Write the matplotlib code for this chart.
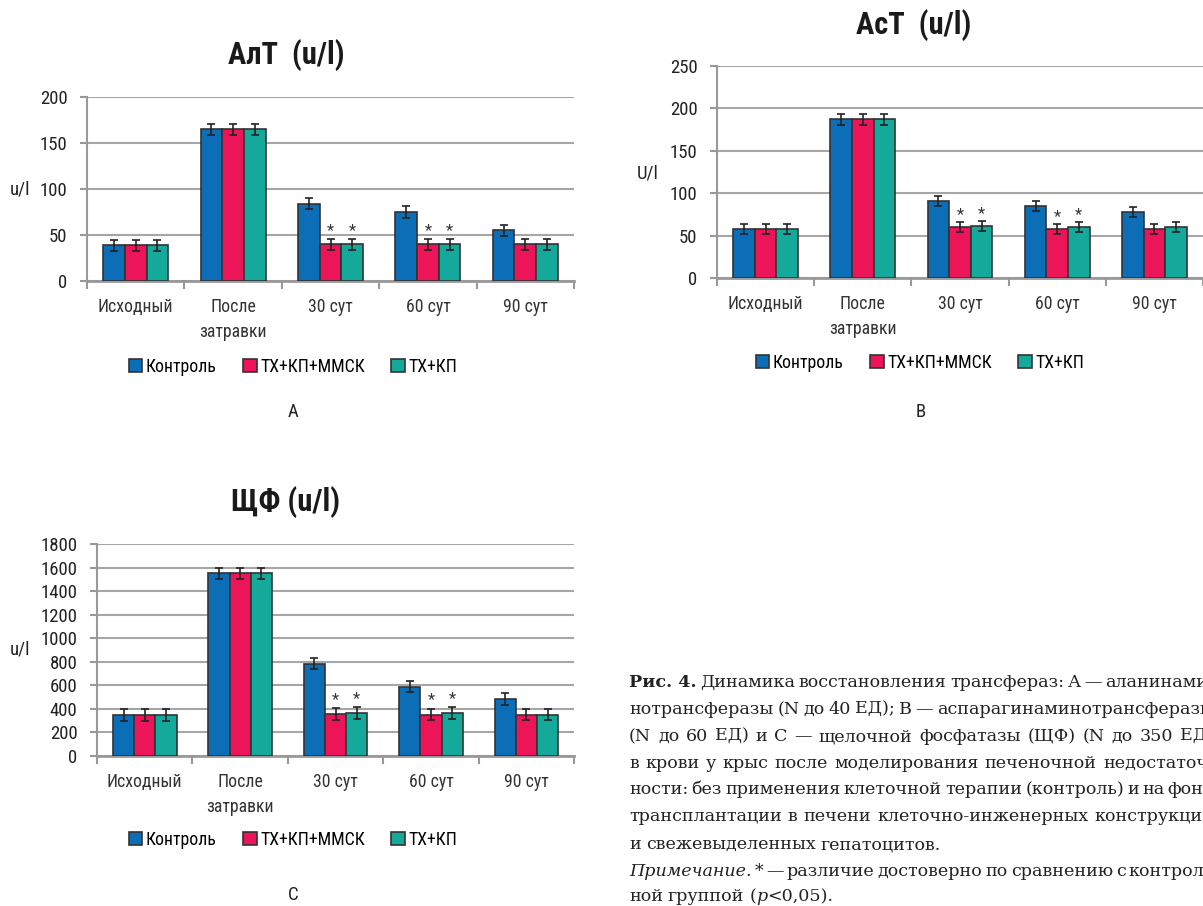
import matplotlib
matplotlib.use('Agg')
import matplotlib.pyplot as plt
import numpy as np

plt.rcParams['font.family'] = ['Roboto Condensed', 'Fira Sans Condensed', 'DejaVu Sans']

# Data
categories = ['Исходный', 'После\nзатравки', '30 сут', '60 сут', '90 сут']
groups = ['Контроль', 'ТХ+КП+ММСК', 'ТХ+КП']
colors = ['#0d6eb8', '#ec1559', '#14a99a']

alt_vals = [[39, 165, 84, 75, 55],
            [39, 165, 40, 40, 40],
            [39, 165, 40, 40, 40]]
alt_err = [6, 6, 6, 6, 6]

ast_vals = [[58, 187, 91, 85, 78],
            [58, 187, 60, 58, 58],
            [58, 187, 61, 60, 60]]
ast_err = [6, 6, 6, 6, 6]

alp_vals = [[350, 1550, 785, 590, 485],
            [350, 1550, 355, 352, 350],
            [350, 1550, 365, 365, 352]]
alp_err = [50, 50, 50, 48, 48]

# significance marks (group index, category index)
stars = [(1, 2), (2, 2), (1, 3), (2, 3)]

W, H = 1203, 906
fig = plt.figure(figsize=(W / 100, H / 100), dpi=100)


def px_axes(left, top, right, bottom):
    return fig.add_axes([left / W, 1 - bottom / H, (right - left) / W, (bottom - top) / H])


def panel(ax, vals, err, ymax, ystep, ylabel, ylab_xy, title, title_xy,
          leg_xy, letter, letter_xy, star_off):
    x = np.arange(len(categories))
    bw = 1 / 4.5
    for i, g in enumerate(groups):
        ax.bar(x + (i - 1) * bw, vals[i], bw, color=colors[i], edgecolor='#333333',
               linewidth=1.2, label=g, zorder=3,
               yerr=err, error_kw=dict(ecolor='#222222', elinewidth=1.2, capsize=3,
                                       capthick=1.2, zorder=4))
    for gi, ci in stars:
        ax.text(x[ci] + (gi - 1) * bw, vals[gi][ci] + err[ci] + star_off, '*',
                ha='center', va='center', fontsize=12, color='#333333', zorder=5)
    ax.set_xlim(-0.5, len(categories) - 0.5)
    ax.set_ylim(0, ymax)
    ax.set_yticks(np.arange(0, ymax + 1, ystep))
    ax.yaxis.grid(True, color='#a6a6a6', linewidth=1.5, zorder=0)
    ax.set_axisbelow(True)
    ax.set_xticks(np.arange(-0.5, len(categories), 1))
    ax.set_xticklabels([])
    ax.set_xticks(x, minor=True)
    ax.set_xticklabels(categories, minor=True, fontsize=12.8, color='#333333',
                       linespacing=1.5)
    ax.tick_params(axis='x', which='minor', length=0, pad=12)
    ax.tick_params(axis='x', which='major', length=6, color='#999999', width=1.5)
    ax.tick_params(axis='y', length=5, color='#999999', width=1.5, labelsize=13.5,
                   labelcolor='#222222', pad=9)
    for s in ['top', 'right']:
        ax.spines[s].set_visible(False)
    ax.spines['left'].set_color('#999999')
    ax.spines['left'].set_linewidth(1.5)
    ax.spines['bottom'].set_color('#999999')
    ax.spines['bottom'].set_linewidth(2)
    fig.text(ylab_xy[0] / W, 1 - ylab_xy[1] / H, ylabel, ha='center', va='center',
             fontsize=13.5, color='#222222')
    fig.text(title_xy[0] / W, 1 - title_xy[1] / H, title, ha='center', va='center',
             fontsize=22, fontweight='bold', color='#1a1a1a')
    fig.legend(*ax.get_legend_handles_labels(), loc='center',
               bbox_to_anchor=(leg_xy[0] / W, 1 - leg_xy[1] / H), ncol=3,
               frameon=False, fontsize=12.8, handlelength=0.75, handleheight=0.75,
               handletextpad=0.2, columnspacing=1.5)
    fig.text(letter_xy[0] / W, 1 - letter_xy[1] / H, letter, ha='center', va='center',
             fontsize=13.5, color='#222222')


axA = px_axes(87, 97, 574, 281)
panel(axA, alt_vals, alt_err, 200, 50, 'u/l', (20, 190), 'АлТ  (u/l)', (286, 55),
      (293, 367), 'A', (293, 412), 9)

axB = px_axes(717, 66, 1203, 278)
panel(axB, ast_vals, ast_err, 250, 50, 'U/l', (648, 173), 'АсТ  (u/l)', (914, 25),
      (920, 363), 'B', (921, 412), 9)

axC = px_axes(97, 544, 574, 756)
panel(axC, alp_vals, alp_err, 1800, 200, 'u/l', (20, 650), 'ЩФ (u/l)', (286, 502),
      (293, 840), 'C', (293, 895), 75)

# Caption on the right, justified
cap_lines = [
    ([('Рис. 4.', 'bold')] + [(w, 'normal') for w in 'Динамика восстановления трансфераз: А — аланинами-'.split()], True),
    ([(w, 'normal') for w in 'нотрансферазы (N до 40 ЕД); В — аспарагинаминотрансферазы'.split()], True),
    ([(w, 'normal') for w in '(N до 60 ЕД) и С — щелочной фосфатазы (ЩФ) (N до 350 ЕД)'.split()], True),
    ([(w, 'normal') for w in 'в крови у крыс после моделирования печеночной недостаточ-'.split()], True),
    ([(w, 'normal') for w in 'ности: без применения клеточной терапии (контроль) и на фоне'.split()], True),
    ([(w, 'normal') for w in 'трансплантации в печени клеточно-инженерных конструкций'.split()], True),
    ([(w, 'normal') for w in 'и свежевыделенных гепатоцитов.'.split()], False),
    ([('Примечание.', 'italic')] + [(w, 'normal') for w in '* — различие достоверно по сравнению с контроль-'.split()], True),
    ([(w, 'normal') for w in 'ной группой'.split()] + [('(', 'normal'), ('p', 'italic'), ('<0,05).', 'normal')], False),
]
cap_y = [681, 708, 735, 762, 788, 815, 843, 870, 895]
cap_left, cap_right = 629, 1214
serif = ['DejaVu Serif']
fig.canvas.draw()
renderer = fig.canvas.get_renderer()


def make_word(x, y, s, style):
    kw = dict(fontsize=12.6, family=serif, color='#222222', ha='left', va='baseline')
    if style == 'bold':
        kw['fontweight'] = 'bold'
    if style == 'italic':
        kw['fontstyle'] = 'italic'
    return fig.text(x / W, 1 - y / H, s, **kw)


for (words, justify), y in zip(cap_lines, cap_y):
    base = y + 6
    objs = [make_word(0, base, s, st) for s, st in words]
    widths = [o.get_window_extent(renderer).width for o in objs]
    # glue "(" "p" "<0,05)." together (no spaces)
    glue = [False] * len(words)
    for k in range(1, len(words)):
        if words[k - 1][0] == '(' or words[k][0] == '<0,05).':
            glue[k] = True
    n_gaps = sum(1 for k in range(1, len(words)) if not glue[k])
    if justify and n_gaps:
        gap = max((cap_right - cap_left - sum(widths)) / n_gaps, 3.0)
    else:
        gap = 5.0
    xpos = cap_left
    for k, o in enumerate(objs):
        if k > 0:
            xpos += widths[k - 1] + (0 if glue[k] else gap)
        o.set_x(xpos / W)

fig.savefig('out.png', dpi=100)
